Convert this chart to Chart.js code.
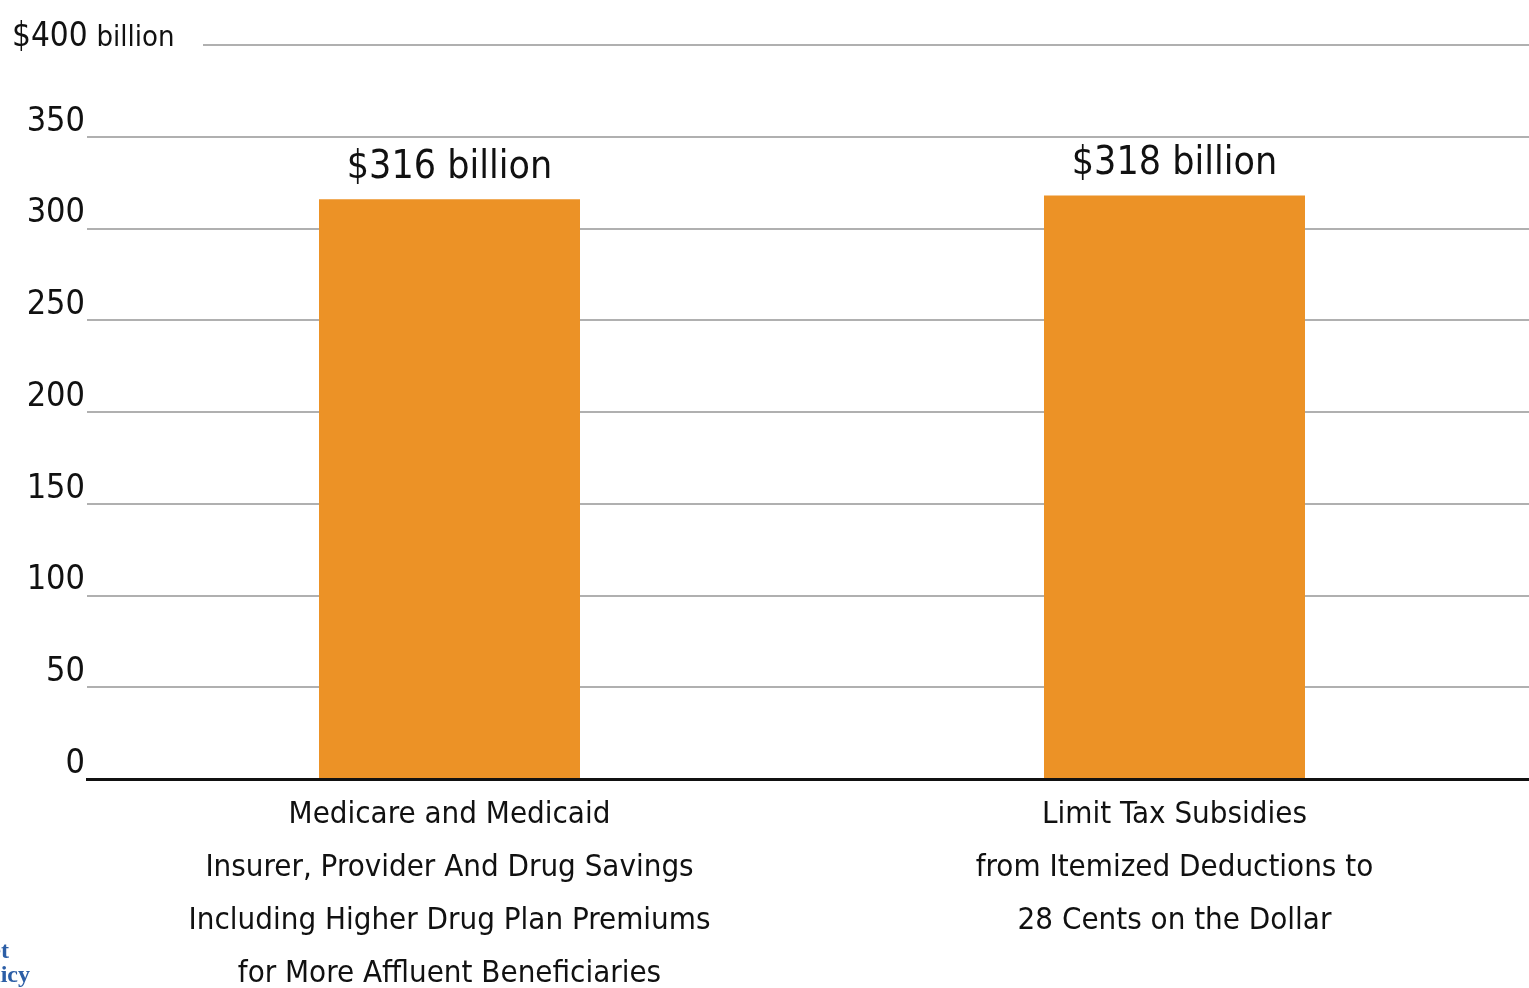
<!DOCTYPE html>
<html>
<head>
<meta charset="utf-8">
<script src="https://cdn.jsdelivr.net/npm/chart.js@4"></script>
<style>
  html, body { margin: 0; padding: 0; background: #fff; overflow: hidden; }
  /* plot runs a few px past the right edge of the window, as in the original */
  #wrap { width: 1537px; height: 988px; position: relative; }
</style>
</head>
<body>
<div id="wrap"><canvas id="chart"></canvas></div>
<script>
// Chart data
const categories = [
    ['Medicare and Medicaid', 'Insurer, Provider And Drug Savings', 'Including Higher Drug Plan Premiums', 'for More Affluent Beneficiaries'],
    ['Limit Tax Subsidies', 'from Itemized Deductions to', '28 Cents on the Dollar']
];
const savings = [316, 318];
const yTicks = [0, 50, 100, 150, 200, 250, 300, 350, 400];

const FONT = '"Liberation Sans Narrow", "DejaVu Sans Condensed", "Liberation Sans", sans-serif';
const ORANGE = '#ec9226';

// Draws the "$400 billion" top label, its shortened gridline, bar values and the cut-off logo
const extras = {
    id: 'extras',
    beforeDatasetsDraw(chart) {
        const ctx = chart.ctx, y = chart.scales.y, area = chart.chartArea;
        const top = y.getPixelForValue(400);
        ctx.save();
        ctx.strokeStyle = '#b0b0b0';
        ctx.lineWidth = 2;
        ctx.beginPath();
        ctx.moveTo(area.left + 116, top);
        ctx.lineTo(area.right, top);
        ctx.stroke();
        ctx.fillStyle = '#111';
        ctx.textBaseline = 'alphabetic';
        ctx.textAlign = 'left';
        ctx.font = '33px ' + FONT;
        ctx.fillText('$400', 12, top + 1);
        const w = ctx.measureText('$400').width;
        ctx.font = '29px ' + FONT;
        ctx.fillText('billion', 12 + w + 9, top + 1);
        ctx.restore();
    },
    afterDatasetsDraw(chart) {
        const ctx = chart.ctx;
        ctx.save();
        ctx.fillStyle = '#111';
        ctx.font = '39px ' + FONT;
        ctx.textAlign = 'center';
        ctx.textBaseline = 'alphabetic';
        chart.getDatasetMeta(0).data.forEach((bar, i) => {
            ctx.fillText('$' + savings[i] + ' billion', bar.x, bar.y - 21);
        });
        // partial logo in the corner
        ctx.fillStyle = '#2c5ea6';
        ctx.font = 'bold 24px "Liberation Serif", serif';
        ctx.textAlign = 'right';
        ctx.fillText('Budget', 9, 958);
        ctx.fillText('Policy', 30, 982);
        ctx.restore();
    }
};

new Chart(document.getElementById('chart'), {
    type: 'bar',
    data: {
        labels: categories,
        datasets: [{ data: savings, backgroundColor: ORANGE, barPercentage: 0.36, categoryPercentage: 1 }]
    },
    options: {
        responsive: true,
        maintainAspectRatio: false,
        animation: false,
        layout: { padding: { top: 45, left: 0, right: 0, bottom: 0 } },
        plugins: { legend: { display: false }, tooltip: { enabled: false } },
        scales: {
            x: {
                grid: { display: false },
                border: { color: '#111', width: 3 },
                ticks: { color: '#111', font: { family: FONT, size: 31, lineHeight: 1.71 }, padding: 1, maxRotation: 0, autoSkip: false },
                afterFit: s => { s.height = 209; }
            },
            y: {
                min: 0, max: 400,
                afterBuildTicks: s => { s.ticks = yTicks.map(v => ({ value: v })); },
                grid: { color: ctx => ctx.tick && ctx.tick.value === 400 ? 'rgba(0,0,0,0)' : '#b0b0b0', lineWidth: 2, drawTicks: false },
                border: { display: false },
                ticks: {
                    color: '#111', font: { family: FONT, size: 34 }, padding: 2, labelOffset: -15,
                    callback: v => v === 400 ? '' : v
                },
                afterFit: s => { s.width = 87; }
            }
        }
    },
    plugins: [extras]
});
</script>
</body>
</html>
